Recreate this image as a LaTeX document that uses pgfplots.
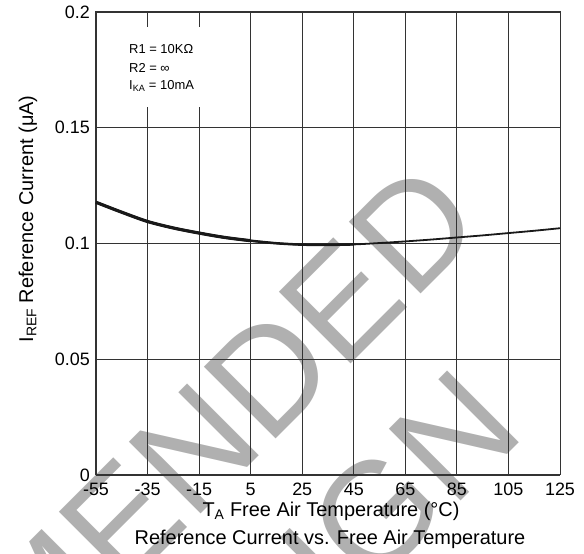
\documentclass[border=0pt]{standalone}
\usepackage{fontspec}
\setmainfont{Liberation Sans}
\usepackage{pgfplots}
\usepackage{pgfplotstable}
\pgfplotsset{compat=1.18}

\definecolor{wmgray}{gray}{0.69}
\definecolor{gridc}{gray}{0.2}

% I_REF versus free-air temperature
\pgfplotstableread{
T     Iref
-55   0.1178
-45   0.1135
-35   0.1095
-25   0.1067
-15   0.1045
-5    0.1026
5     0.1012
15    0.1001
25    0.0995
35    0.0994
45    0.0996
55    0.1002
65    0.1009
75    0.1017
85    0.1026
95    0.1035
105   0.1045
115   0.1055
125   0.1066
}\irefdata

\begin{document}
\begin{tikzpicture}[x=1bp,y=1bp]
\path[use as bounding box] (-96,-79) rectangle (488,475);

% watermark, set behind everything else
\begin{scope}[every node/.style={anchor=base east, rotate=45, text=wmgray,
    font=\fontsize{148}{148}\selectfont, inner sep=0pt}]
  \node at (392,248) {NOT RECOMMENDED};
  \node at (432,41) {FOR NEW DESIGN};
\end{scope}

\begin{axis}[
  at={(0,0)}, anchor=south west,
  scale only axis, width=464bp, height=463bp,
  xmin=-55, xmax=125, ymin=0, ymax=0.2,
  xtick={-55,-35,...,125},
  xticklabels={-55,-35,-15,5,25,45,65,85,105,125},
  ytick={0,0.05,0.1,0.15,0.2},
  yticklabels={0,0.05,0.1,0.15,0.2},
  grid=major,
  major grid style={gridc, line width=0.8bp},
  axis line style={gridc, line width=1bp},
  major tick length=0pt,
  tick label style={font=\fontsize{18}{20}\selectfont},
  xticklabel style={anchor=north, inner sep=0pt, yshift=-8bp},
  yticklabel style={anchor=east, inner sep=0pt, xshift=-6bp},
  clip=false,
]
  \addplot[black!90, line width=1.8bp, smooth] table[x=T, y=Iref] {\irefdata};
  \addplot[black!90, line width=2.5bp, smooth, restrict x to domain=-55:45] table[x=T, y=Iref] {\irefdata};
  \addplot[black!90, line width=3.2bp, smooth, restrict x to domain=-55:5] table[x=T, y=Iref] {\irefdata};

  % conditions box, blanking the grid behind it
  \fill[white] (axis cs:-45.7,0.159) rectangle (axis cs:-9,0.1935);
  \begin{scope}[every node/.style={anchor=base west, inner sep=0pt,
      font=\fontsize{13}{15}\selectfont}]
    \node at (axis cs:-42.2,0.1822) {R1 = 10KΩ};
    \node at (axis cs:-42.2,0.1740) {R2 = ∞};
    \node at (axis cs:-42.2,0.1667) {I\textsubscript{KA} = 10mA};
  \end{scope}
\end{axis}

\begin{scope}[every node/.style={font=\fontsize{20}{24}\selectfont, inner sep=0pt}]
  \node[rotate=90] at (-68,256) {I\textsubscript{REF} Reference Current (μA)};
  \node at (235,-36) {T\textsubscript{A} Free Air Temperature (°C)};
  \node at (234,-64) {Reference Current vs. Free Air Temperature};
\end{scope}
\end{tikzpicture}
\end{document}
